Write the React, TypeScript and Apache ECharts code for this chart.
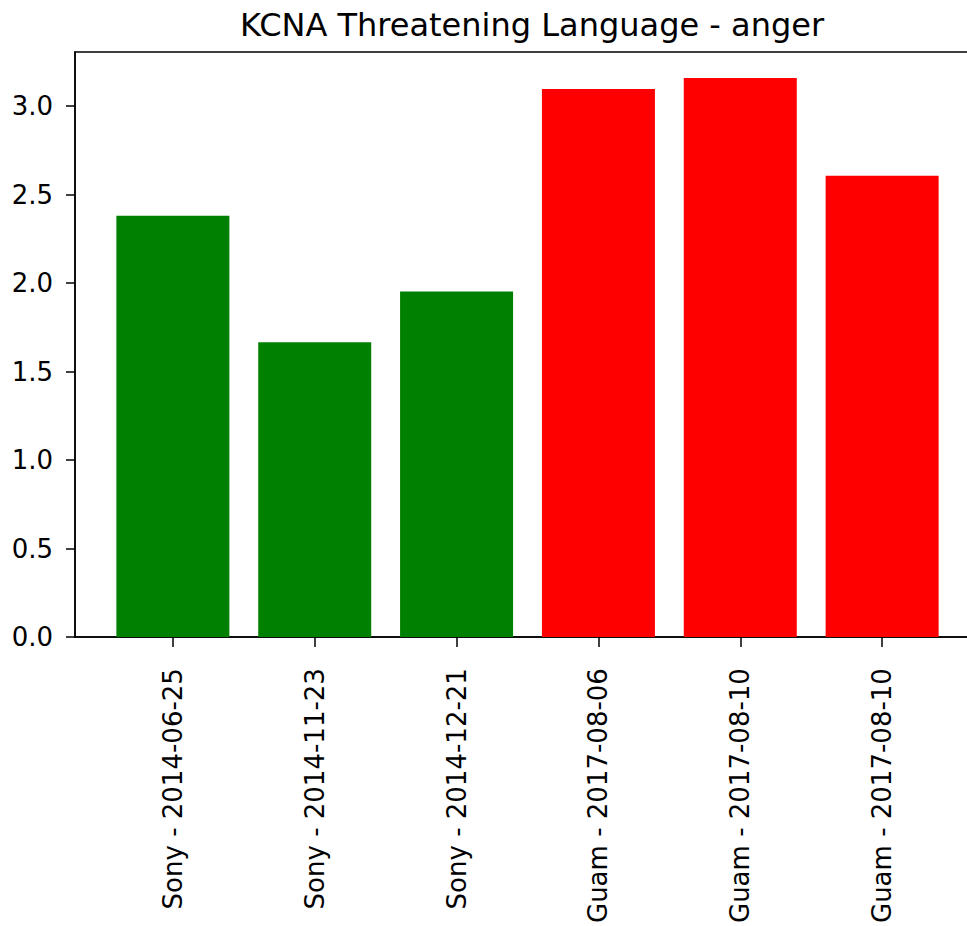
import React, { useEffect, useRef } from "react";
import * as echarts from "echarts";

const categories = [
  "Sony - 2014-06-25",
  "Sony - 2014-11-23",
  "Sony - 2014-12-21",
  "Guam - 2017-08-06",
  "Guam - 2017-08-10",
  "Guam - 2017-08-10",
];
const angerValues = [2.38, 1.665, 1.952, 3.096, 3.158, 2.606];
const barColors = ["#008000", "#008000", "#008000", "#ff0000", "#ff0000", "#ff0000"];
const yTicks = [0, 0.5, 1.0, 1.5, 2.0, 2.5, 3.0];
const xTicks = [0, 1, 2, 3, 4, 5];

export default function App() {
  const ref = useRef<HTMLDivElement>(null);
  useEffect(() => {
    if (!ref.current) return;
    const chart = echarts.init(ref.current, null, { renderer: "svg" });
    const font = "DejaVu Sans";
    chart.setOption({
      animation: false,
      backgroundColor: "#ffffff",
      title: {
        text: "KCNA Threatening Language - anger",
        left: 527,
        textAlign: "center",
        top: 4,
        textStyle: { fontFamily: font, fontSize: 32, fontWeight: "normal", color: "#000" },
      },
      grid: {
        left: 75,
        right: 20,
        top: 52,
        bottom: 288,
        show: true,
        borderColor: "#000",
        borderWidth: 1.5,
        backgroundColor: "transparent",
      },
      xAxis: {
        type: "value",
        min: -0.69,
        max: 5.69,
        splitLine: { show: false },
        axisLine: { show: true, onZero: false, lineStyle: { color: "#000", width: 1.5 } },
        axisTick: { show: true, customValues: xTicks, length: 10, lineStyle: { color: "#000", width: 1.5 } },
        axisLabel: {
          customValues: xTicks,
          rotate: 90,
          margin: 31,
          fontFamily: font,
          fontSize: 26,
          color: "#000",
          formatter: (v: number) => categories[Math.round(v)] ?? "",
        },
      },
      yAxis: {
        type: "value",
        min: 0,
        max: 3.305,
        splitLine: { show: false },
        axisLine: { show: true, onZero: false, lineStyle: { color: "#000", width: 1.5 } },
        axisTick: { show: true, customValues: yTicks, length: 9, lineStyle: { color: "#000", width: 1.5 } },
        axisLabel: {
          customValues: yTicks,
          margin: 22,
          fontFamily: font,
          fontSize: 26,
          color: "#000",
          formatter: (v: number) => v.toFixed(1),
        },
      },
      series: [
        {
          type: "bar",
          barWidth: 113,
          data: angerValues.map((v, i) => ({ value: [i, v], itemStyle: { color: barColors[i] } })),
        },
      ],
    });
    return () => chart.dispose();
  }, []);
  return (
    <div
      style={{ position: "fixed", left: 0, top: 0, width: 967, height: 926, overflow: "hidden", background: "#fff" }}
    >
      <div ref={ref} style={{ width: 1000, height: 926 }} />
    </div>
  );
}
